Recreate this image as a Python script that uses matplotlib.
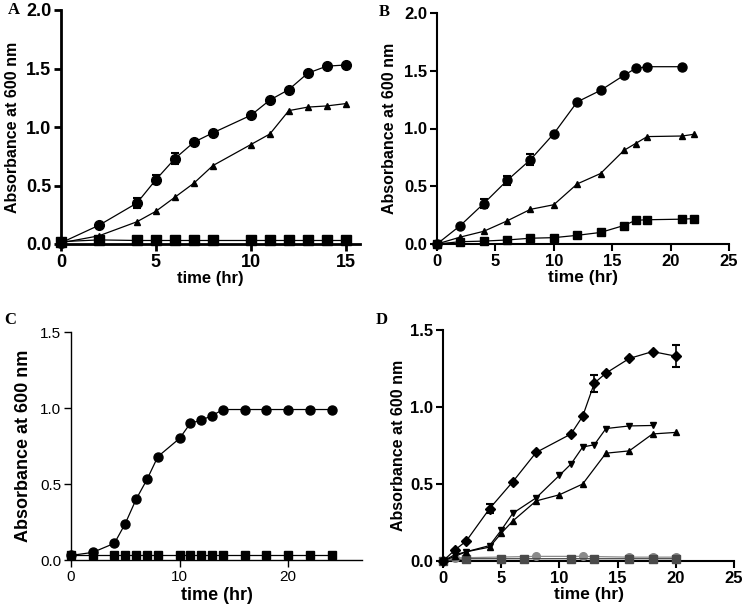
import matplotlib
matplotlib.use('Agg')
import matplotlib.pyplot as plt

# panel A
a_t = [0, 2, 4, 5, 6, 7, 8, 10, 11, 12, 13, 14, 15]
a_circ = [0.01, 0.16, 0.35, 0.55, 0.73, 0.87, 0.95, 1.10, 1.23, 1.32, 1.46, 1.52, 1.53]
a_circ_err = [0, 0, 0.04, 0.04, 0.05, 0, 0, 0, 0, 0, 0, 0, 0]
a_tri = [0.01, 0.07, 0.19, 0.28, 0.40, 0.52, 0.67, 0.85, 0.94, 1.14, 1.17, 1.18, 1.20]
a_sq = [0.02, 0.035, 0.03, 0.03, 0.03, 0.03, 0.03, 0.03, 0.03, 0.03, 0.03, 0.03, 0.03]

# panel B
b_t_circ = [0, 2, 4, 6, 8, 10, 12, 14, 16, 17, 18, 21]
b_circ = [0.0, 0.16, 0.35, 0.55, 0.73, 0.955, 1.23, 1.33, 1.46, 1.52, 1.535, 1.535]
b_circ_err = [0, 0, 0.04, 0.04, 0.05, 0, 0, 0, 0, 0, 0, 0]
b_t = [0, 2, 4, 6, 8, 10, 12, 14, 16, 17, 18, 21, 22]
b_tri = [0.0, 0.06, 0.11, 0.20, 0.30, 0.34, 0.52, 0.61, 0.81, 0.87, 0.93, 0.935, 0.95]
b_sq = [0.0, 0.02, 0.025, 0.035, 0.05, 0.055, 0.075, 0.10, 0.16, 0.205, 0.21, 0.215, 0.22]

# panel C
c_t = [0, 2, 4, 5, 6, 7, 8, 10, 11, 12, 13, 14, 16, 18, 20, 22, 24]
c_circ = [0.03, 0.05, 0.11, 0.24, 0.40, 0.53, 0.68, 0.80, 0.90, 0.92, 0.95, 0.99,
          0.99, 0.99, 0.99, 0.99, 0.99]
c_sq = [0.03] * 17

# panel D
d_t_dia = [0, 1, 2, 4, 6, 8, 11, 12, 13, 14, 16, 18, 20]
d_dia = [0.0, 0.07, 0.13, 0.34, 0.515, 0.705, 0.825, 0.94, 1.155, 1.22, 1.315, 1.36, 1.33]
d_dia_err = [0, 0, 0, 0.03, 0, 0, 0, 0, 0.055, 0, 0, 0, 0.07]
d_t_down = [0, 1, 2, 4, 5, 6, 8, 10, 11, 12, 13, 14, 16, 18]
d_down = [0.0, 0.04, 0.06, 0.10, 0.20, 0.31, 0.41, 0.556, 0.63, 0.74, 0.755, 0.86, 0.877, 0.88]
d_t_up = [0, 1, 2, 4, 5, 6, 8, 10, 12, 14, 16, 18, 20]
d_up = [0.0, 0.03, 0.06, 0.09, 0.18, 0.26, 0.39, 0.43, 0.50, 0.70, 0.715, 0.825, 0.835]
d_t_grey = [0, 1, 8, 12, 16, 18, 20]
d_grey = [0.0, 0.02, 0.03, 0.03, 0.025, 0.025, 0.025]
d_t_dark = [0, 2, 5, 7, 11, 13, 16, 18, 20]
d_dark = [0.0, 0.015, 0.015, 0.015, 0.015, 0.015, 0.015, 0.015, 0.015]

W, H = 742, 613
fig = plt.figure(figsize=(W / 100, H / 100), dpi=100)


def make_ax(l, r, t, b):
    return fig.add_axes([l / W, 1 - b / H, (r - l) / W, (b - t) / H])


def style(ax, lw, tfont, tsize, tweight):
    for s in ['top', 'right']:
        ax.spines[s].set_visible(False)
    for s in ['left', 'bottom']:
        ax.spines[s].set_linewidth(lw)
    ax.tick_params(direction='out', length=5, width=lw, pad=2)
    for lab in ax.get_xticklabels() + ax.get_yticklabels():
        lab.set_family(tfont)
        lab.set_size(tsize)
        lab.set_weight(tweight)


def series(ax, x, y, marker, ms, color='black', yerr=None):
    ax.errorbar(x, y, yerr=yerr, color=color, marker=marker, ms=ms, lw=0.9,
                capsize=3, elinewidth=1.2, capthick=1.5, clip_on=False, zorder=3)


lab_font = ['Liberation Sans']

# A
ax = make_ax(61, 360, 10, 244)
series(ax, a_t, a_sq, 's', 6.5)
series(ax, a_t, a_tri, '^', 5)
series(ax, a_t, a_circ, 'o', 7, yerr=a_circ_err)
ax.set_xlim(0, 15.75)
ax.set_ylim(0, 2.0)
ax.set_xticks([0, 5, 10, 15])
ax.set_yticks([0, 0.5, 1.0, 1.5, 2.0])
ax.set_yticklabels(['0.0', '0.5', '1.0', '1.5', '2.0'])
style(ax, 2, lab_font, 13, 'bold')
ax.set_xlabel('time (hr)', family=lab_font, size=12, weight='bold', labelpad=0)
ax.set_ylabel('Absorbance at 600 nm', family=lab_font, size=11.5, weight='bold', labelpad=4)
fig.text(8 / W, 1 - 10 / H, 'A', family='Liberation Serif', weight='bold', size=12, va='center')

# B
ax = make_ax(437, 729, 13, 244)
series(ax, b_t, b_sq, 's', 6)
series(ax, b_t, b_tri, '^', 5)
series(ax, b_t_circ, b_circ, 'o', 6.5, yerr=b_circ_err)
ax.set_xlim(0, 25)
ax.set_ylim(0, 2.0)
ax.set_xticks([0, 5, 10, 15, 20, 25])
ax.set_yticks([0, 0.5, 1.0, 1.5, 2.0])
ax.set_yticklabels(['0.0', '0.5', '1.0', '1.5', '2.0'])
style(ax, 1.5, lab_font, 12, 'bold')
ax.set_xlabel('time (hr)', family=lab_font, size=12.5, weight='bold', labelpad=1)
ax.set_ylabel('Absorbance at 600 nm', family=lab_font, size=11.5, weight='bold', labelpad=5)
fig.text(379 / W, 1 - 12 / H, 'B', family='Liberation Serif', weight='bold', size=12, va='center')

# C
ax = make_ax(71, 362, 332, 560)
series(ax, c_t, c_sq, 's', 6)
series(ax, c_t, c_circ, 'o', 6.5)
ax.set_xlim(0, 26.8)
ax.set_ylim(0, 1.5)
ax.set_xticks([0, 10, 20])
ax.set_yticks([0, 0.5, 1.0, 1.5])
ax.set_yticklabels(['0.0', '0.5', '1.0', '1.5'])
style(ax, 1, lab_font, 11, 'normal')
ax.set_xlabel('time (hr)', family=lab_font, size=13, weight='bold', labelpad=2)
ax.set_ylabel('Absorbance at 600 nm', family=lab_font, size=13, weight='bold', labelpad=6)
fig.text(4 / W, 1 - 320 / H, 'C', family='Liberation Serif', weight='bold', size=12, va='center')

# D
ax = make_ax(443, 734, 330, 561)
series(ax, d_t_grey, d_grey, 'o', 5.5, color='#8a8a8a')
series(ax, d_t_dark, d_dark, 's', 5.5, color='#4a4a4a')
series(ax, d_t_up, d_up, '^', 5)
series(ax, d_t_down, d_down, 'v', 5)
series(ax, d_t_dia, d_dia, 'D', 5, yerr=d_dia_err)
ax.set_xlim(0, 25)
ax.set_ylim(0, 1.5)
ax.set_xticks([0, 5, 10, 15, 20, 25])
ax.set_yticks([0, 0.5, 1.0, 1.5])
ax.set_yticklabels(['0.0', '0.5', '1.0', '1.5'])
style(ax, 1.5, lab_font, 12, 'bold')
ax.set_xlabel('time (hr)', family=lab_font, size=12.5, weight='bold', labelpad=1)
ax.set_ylabel('Absorbance at 600 nm', family=lab_font, size=11.5, weight='bold', labelpad=3)
fig.text(376 / W, 1 - 320 / H, 'D', family='Liberation Serif', weight='bold', size=12, va='center')

fig.savefig('out.png', dpi=100)
